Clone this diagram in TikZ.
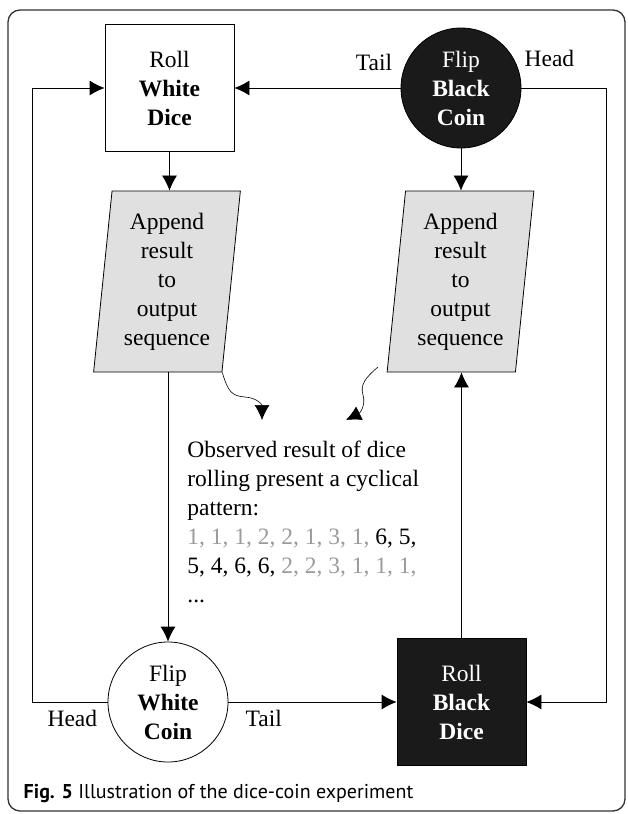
\documentclass[tikz,border=0pt]{standalone}
\usepackage{fontspec}
\setmainfont{Liberation Serif}[BoldFont={Liberation Serif Bold}]
\newfontfamily\capfont{PT Sans}
\usetikzlibrary{shapes.geometric,arrows.meta}

\definecolor{coinblack}{RGB}{26,26,26}
\definecolor{paragray}{RGB}{224,224,224}
\definecolor{numgray}{RGB}{155,155,155}

\tikzset{
  box/.style={draw, rectangle, minimum width=129pt, minimum height=127pt, align=center, inner sep=0pt},
  coin/.style={draw, circle, minimum size=120pt, align=center, inner sep=0pt},
  para/.style={draw, fill=paragray, trapezium, trapezium left angle=84, trapezium right angle=96,
    trapezium stretches=true, minimum width=147pt, minimum height=181pt, align=center, inner sep=0pt},
  flow/.style={-{Latex[length=15pt,width=15pt]}}
}

\begin{document}
\begin{tikzpicture}[x=1pt,y=-1pt,font=\fontsize{23.5}{29}\selectfont,line width=0.8pt]

\useasboundingbox (0,0) rectangle (627,814);
\draw[rounded corners=12pt, line width=1.3pt, black!80] (8,10) rectangle (625,811);

\node[box] (wdice) at (169.5,88) {Roll\\\textbf{White}\\\textbf{Dice}};
\node[coin, fill=coinblack, text=white] (bcoin) at (461,88) {Flip\\\textbf{Black}\\\textbf{Coin}};
\node[para] (lpara) at (167,281.5) {Append\\result\\to\\output\\sequence};
\node[para] (rpara) at (460.5,281.5) {Append\\result\\to\\output\\sequence};
\node[coin] (wcoin) at (168,702) {Flip\\\textbf{White}\\\textbf{Coin}};
\node[box, fill=coinblack, text=white] (bdice) at (461.5,702) {Roll\\\textbf{Black}\\\textbf{Dice}};

% observed pattern
\node[anchor=north west, align=left, inner sep=0pt] (obs) at (187,441)
  {Observed result of dice\\rolling present a cyclical\\pattern:\\
   \textcolor{numgray}{1, 1, 1, 2, 2, 1, 3, 1,} 6, 5,\\
   5, 4, 6, 6, \textcolor{numgray}{2, 2, 3, 1, 1, 1,}\\...};

\draw[flow] (wdice.south) -- (wdice.south |- lpara.north);
\draw[flow] (bcoin.south) -- (bcoin.south |- rpara.north);
\draw[flow] (wcoin.north |- lpara.south) -- (wcoin.north);
\draw[flow] (bdice.north) -- (bdice.north |- rpara.south);

\draw[flow] (bcoin.west) -- node[pos=0.16, above=14pt] {Tail} (bcoin.west -| wdice.east);
\draw[flow] (bcoin.east) -| node[pos=0.165, above=18pt] {Head} ([xshift=80pt]bdice.east) -- (bdice.east);
\draw[flow] (wcoin.west) -| node[pos=0.235, below=4pt] {Head} ([xshift=-72pt]wdice.west) -- (wdice.west);
\draw[flow] (wcoin.east) -- node[pos=0.21, below=4pt] {Tail} (bdice.west);

% wavy arrows to the text
\coordinate (wave) at (378,367);
\draw[flow, line width=0.6pt] (lpara.bottom right corner) .. controls (228,392) and (232,396) .. (245,397)
  .. controls (258,398) and (262,405) .. (262,420);
\draw[flow, line width=0.6pt] (wave) .. controls (365,378) and (360,385) .. (363,395)
  .. controls (366,405) and (360,413) .. (346,420);

\node[anchor=west, font=\capfont\fontsize{20}{22}\selectfont] (cap) at (20,793)
  {\textbf{Fig. 5} Illustration of the dice-coin experiment};

\end{tikzpicture}
\end{document}
